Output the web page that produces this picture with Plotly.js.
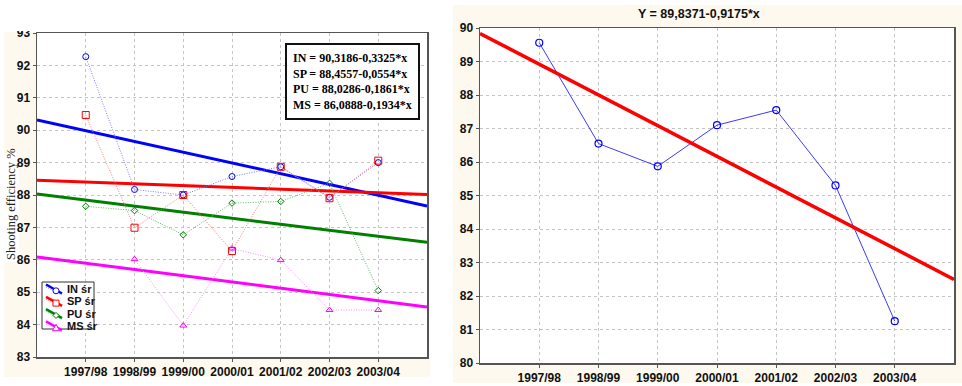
<!DOCTYPE html>
<html>
<head>
<meta charset="utf-8">
<script src="https://cdn.plot.ly/plotly-3.0.1.min.js"></script>
<style>html,body{margin:0;padding:0;background:#fff;}#chart{width:962px;height:386px;}</style>
</head>
<body>
<div id="chart"></div>
<script>
// ---- data ----
const seasons = ['1997/98','1998/99','1999/00','2000/01','2001/02','2002/03','2003/04'];
const inVals  = [92.27, 88.17, 88.00, 88.57, 88.87, 87.93, 89.00];
const spVals  = [90.47, 86.99, 88.00, 86.27, 88.87, 87.90, 89.06];
const puVals  = [87.65, 87.52, 86.77, 87.75, 87.80, 88.36, 85.05];
const msVals  = [null,  86.02, 83.97, 86.35, 85.99, 84.45, 84.45];
const totalVals = [89.56, 86.55, 85.87, 87.10, 87.55, 85.30, 81.25];
const regNames = ['IN', 'SP', 'PU', 'MS'];
const regIntercepts = [90.3186, 88.4557, 88.0286, 86.0888];
const regSlopes = [-0.3325, -0.0554, -0.1861, -0.1934];
const totalIntercept = [89.8371];
const totalSlope = [-0.9175];
const leftYTicks = [83, 84, 85, 86, 87, 88, 89, 90, 91, 92, 93];
const rightYTicks = [80, 81, 82, 83, 84, 85, 86, 87, 88, 89, 90];

// ---- helpers ----
const W = 962, H = 386;
const px = v => v / W, py = v => 1 - v / H;
const xs = seasons.map((s, i) => i + 1);
const xRange = [0, seasons.length + 1];
const fmt = v => Math.abs(v).toFixed(4).replace('.', ',');

const regColors = ['#0000ff', '#ff0000', '#008000', '#ff00ff'];
const dotColors = ['#7a7aff', '#ff7a7a', '#6ab46a', '#ff8aff'];
const symbols = ['circle-open', 'square-open', 'diamond-open', 'triangle-up-open'];
const symSizes = [6, 7, 5, 6];
const series = [inVals, spVals, puVals, msVals];

const traces = [];
// regression lines (left)
regNames.forEach((n, i) => {
  traces.push({
    x: xRange, y: xRange.map(x => regIntercepts[i] + regSlopes[i] * x),
    mode: 'lines', line: {color: regColors[i], width: 3},
    xaxis: 'x', yaxis: 'y', showlegend: false, hoverinfo: 'skip'
  });
});
// data series (left)
series.forEach((vals, i) => {
  traces.push({
    x: xs, y: vals, mode: 'lines+markers',
    line: {color: dotColors[i], width: 1, dash: '1px,1.5px'},
    marker: {symbol: symbols[i], size: symSizes[i], color: regColors[i], line: {width: 1, color: regColors[i]}},
    xaxis: 'x', yaxis: 'y', showlegend: false, connectgaps: false
  });
});
// right panel
traces.push({
  x: xs, y: totalVals, mode: 'lines+markers',
  line: {color: '#3a3aff', width: 1},
  marker: {symbol: 'circle-open', size: 7, color: '#0000ff', line: {width: 1.2, color: '#0000ff'}},
  xaxis: 'x2', yaxis: 'y2', showlegend: false
});
traces.push({
  x: xRange, y: xRange.map(x => totalIntercept[0] + totalSlope[0] * x),
  mode: 'lines', line: {color: '#ff0000', width: 3.5},
  xaxis: 'x2', yaxis: 'y2', showlegend: false, hoverinfo: 'skip'
});

// ---- hand-built compact legend (pixel space of a hidden overlay axis) ----
const legBox = {x0: 42, x1: 94, y0: 282, y1: 329};
const legRow0 = 289, legRowStep = 12.3;
const legShapes = [{
  type: 'rect', xref: 'x3', yref: 'y3', x0: legBox.x0, x1: legBox.x1, y0: legBox.y0, y1: legBox.y1,
  fillcolor: '#ffffff', line: {color: '#333', width: 1}, layer: 'above'
}];
const legAnn = [];
function legMarker(i, cx, cy) {
  const r = 3, c = regColors[i];
  const base = {xref: 'x3', yref: 'y3', fillcolor: '#ffffff', line: {color: c, width: 1}, layer: 'above'};
  if (i === 0) return Object.assign(base, {type: 'circle', x0: cx - r, x1: cx + r, y0: cy - r, y1: cy + r});
  if (i === 1) return Object.assign(base, {type: 'rect', x0: cx - r, x1: cx + r, y0: cy - r, y1: cy + r});
  if (i === 2) return Object.assign(base, {type: 'path',
    path: `M${cx},${cy - r} L${cx + r},${cy} L${cx},${cy + r} L${cx - r},${cy} Z`});
  return Object.assign(base, {type: 'path',
    path: `M${cx},${cy - r - 0.5} L${cx + r + 0.5},${cy + r} L${cx - r - 0.5},${cy + r} Z`});
}
regNames.forEach((n, i) => {
  const yc = legRow0 + i * legRowStep;
  legShapes.push({type: 'line', xref: 'x3', yref: 'y3', x0: 46, x1: 62, y0: yc - 4.5, y1: yc + 4.5,
    line: {color: regColors[i], width: 2.5}, layer: 'above'});
  legShapes.push({type: 'line', xref: 'x3', yref: 'y3', x0: 46, x1: 62, y0: yc - 2, y1: yc + 6,
    line: {color: dotColors[i], width: 1, dash: '1px,1.5px'}, layer: 'above'});
  legShapes.push(legMarker(i, 56, yc + 1.8));
  legAnn.push({text: n + ' śr', xref: 'x3', yref: 'y3', x: 65, y: yc, xanchor: 'left', yanchor: 'middle',
    showarrow: false,
    font: {family: 'Liberation Sans Narrow, Liberation Sans, Arial', size: 11, color: '#111', weight: 'bold'}});
});

const tickFont = {family: 'Liberation Sans Narrow, Arial Narrow, Liberation Sans, Arial', size: 12, color: '#111', weight: 'bold'};
const axisCommon = {
  showgrid: true, gridcolor: '#c4c4c4', griddash: 'dot', gridwidth: 1,
  showline: true, linecolor: '#555', linewidth: 1.5, mirror: true,
  ticks: 'outside', ticklen: 3, tickcolor: '#555', zeroline: false,
  tickfont: tickFont, fixedrange: true
};

const eqText = regNames.map((n, i) =>
  n + ' = ' + fmt(regIntercepts[i]) + '-' + fmt(regSlopes[i]) + '*x').join('<br>');

const layout = {
  width: W, height: H,
  margin: {l: 0, r: 0, t: 0, b: 0},
  paper_bgcolor: '#ffffff', plot_bgcolor: 'rgba(0,0,0,0)',
  showlegend: false,
  xaxis: Object.assign({}, axisCommon, {
    domain: [px(37), px(427)], range: xRange, tickvals: xs, ticktext: seasons, anchor: 'y'
  }),
  yaxis: Object.assign({}, axisCommon, {
    domain: [py(357), py(33)], range: [leftYTicks[0], leftYTicks[leftYTicks.length - 1]],
    tickvals: leftYTicks, anchor: 'x'
  }),
  xaxis2: Object.assign({}, axisCommon, {
    domain: [px(480), px(954)], range: xRange, tickvals: xs, ticktext: seasons, anchor: 'y2'
  }),
  yaxis2: Object.assign({}, axisCommon, {
    domain: [py(363), py(28)], range: [rightYTicks[0], rightYTicks[rightYTicks.length - 1]],
    tickvals: rightYTicks, anchor: 'x2'
  }),
  xaxis3: {domain: [0, 1], range: [0, W], visible: false, fixedrange: true, anchor: 'y3'},
  yaxis3: {domain: [0, 1], range: [H, 0], visible: false, fixedrange: true, anchor: 'x3'},
  shapes: [
    {type: 'rect', xref: 'paper', yref: 'paper', x0: px(4), x1: px(430), y0: py(377), y1: py(32),
     fillcolor: '#fdf9ee', line: {width: 0}, layer: 'below'},
    {type: 'rect', xref: 'paper', yref: 'paper', x0: px(453), x1: px(962), y0: py(383), y1: py(5),
     fillcolor: '#fdf9ee', line: {width: 0}, layer: 'below'},
    {type: 'rect', xref: 'x domain', yref: 'y domain', x0: 0, x1: 1, y0: 0, y1: 1,
     fillcolor: '#ffffff', line: {width: 0}, layer: 'below'},
    {type: 'rect', xref: 'x2 domain', yref: 'y2 domain', x0: 0, x1: 1, y0: 0, y1: 1,
     fillcolor: '#ffffff', line: {width: 0}, layer: 'below'},
    {type: 'rect', xref: 'paper', yref: 'paper', x0: px(4), x1: px(19), y0: py(262), y1: py(153),
     fillcolor: '#ffffff', line: {width: 0}, layer: 'below'},
    {type: 'rect', xref: 'paper', yref: 'paper', x0: 0, x1: px(36), y0: py(31), y1: 1,
     fillcolor: '#ffffff', line: {width: 0}, layer: 'above'}
  ].concat(legShapes),
  annotations: [
    {text: 'Shooting efficiency %', xref: 'paper', yref: 'paper', x: px(11), y: py(204),
     textangle: -90, showarrow: false, xanchor: 'center', yanchor: 'middle',
     font: {family: 'Liberation Serif, Times New Roman, serif', size: 12.5, color: '#222'}},
    {text: 'Y = ' + fmt(totalIntercept[0]) + '-' + fmt(totalSlope[0]) + '*x', xref: 'paper', yref: 'paper',
     x: px(699), y: py(14), showarrow: false, xanchor: 'center', yanchor: 'middle',
     font: {family: 'Liberation Sans Narrow, Liberation Sans, Arial', size: 12.5, color: '#111', weight: 'bold'}},
    {text: eqText, xref: 'paper', yref: 'paper', x: px(285), y: py(43), xanchor: 'left', yanchor: 'top',
     align: 'left', showarrow: false, bgcolor: '#ffffff', bordercolor: '#111', borderwidth: 2, borderpad: 6,
     font: {family: 'Liberation Serif, Times New Roman, serif', size: 12, color: '#000', weight: 'bold'}}
  ].concat(legAnn)
};

Plotly.newPlot('chart', traces, layout, {displayModeBar: false, staticPlot: true});
</script>
</body>
</html>
